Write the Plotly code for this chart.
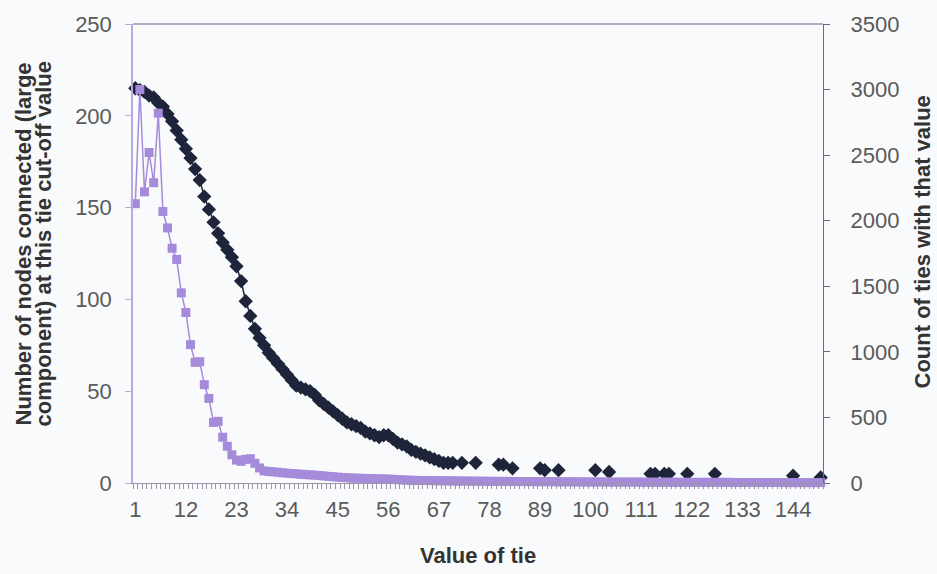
import plotly.graph_objects as go

# Tie value categories on the x axis
tie_values = list(range(1, 151))
x_tick_labels = ["1", "12", "23", "34", "45", "56", "67", "78", "89",
                 "100", "111", "122", "133", "144"]
x_tick_positions = [int(t) for t in x_tick_labels]

# Nodes in the large component at each cut-off value (blank where no value)
nodes_connected = [
    215, 214, 213, 211, 210, 207, 205, 201, 197, 192,
    187, 182, 177, 171, 165, 156, 149, 142, 136, 131,
    127, 123, 118, 110, 99, 91, 84, 79, 75, 71,
    68, 65, 62, 59, 56, 53, 52, 51, 50, 48,
    45, 43, 41, 39, 37, 35, 33, 32, 31, 30,
    28, 27, 26, 25, 26, 26, 24, 22, 21, 20,
    18, 17, 16, 15, 14, 13, 12, 11, 11, 11,
    None, 11, None, None, 11, None, None, None, None, 10,
    10, None, 8, None, None, None, None, None, 8, 7,
    None, None, 7, None, None, None, None, None, None, None,
    7, None, None, 6, None, None, None, None, None, None,
    None, None, 5, 5, None, 5, 5, None, None, None,
    5, None, None, None, None, None, 5, None, None, None,
    None, None, None, None, None, None, None, None, None, None,
    None, None, None, 4, None, None, None, None, None, 3,
]

# Number of ties having each value
tie_counts = [
    2130, 3000, 2220, 2520, 2290, 2820, 2070, 1945, 1790, 1705,
    1450, 1300, 1055, 920, 925, 750, 645, 462, 470, 349,
    280, 215, 175, 165, 180, 185, 150, 115, 92, 88,
    85, 82, 78, 75, 72, 70, 67, 64, 62, 60,
    57, 54, 50, 48, 45, 42, 40, 38, 37, 36,
    35, 34, 33, 32, 31, 30, 28, 26, 24, 22,
    21, 20, 19, 19, 18, 18, 17, 17, 16, 16,
    15, 15, 15, 14, 14, 14, 13, 13, 13, 12,
    12, 12, 12, 11, 11, 11, 11, 10, 10, 10,
    10, 10, 9, 9, 9, 9, 9, 8, 8, 8,
    8, 8, 8, 8, 7, 7, 7, 7, 7, 7,
    7, 6, 6, 6, 6, 6, 6, 6, 6, 5,
    5, 5, 5, 5, 5, 5, 5, 5, 5, 5,
    4, 4, 4, 4, 4, 4, 4, 4, 4, 4,
    4, 3, 3, 3, 3, 3, 3, 3, 3, 3,
]

left_title_lines = ["Number of nodes connected (large",
                    "component) at this tie cut-off value"]
right_title = "Count of ties with that value"
x_title = "Value of tie"

DARK = "#1e2439"
PURPLE = "#a68bdb"
FAMILY = "Liberation Sans, Arial, sans-serif"
TICK_FONT = dict(family=FAMILY, size=22, color="#5a5a5a")
TITLE_FONT = dict(family=FAMILY, size=22, color="#333333")

fig = go.Figure()

fig.add_trace(go.Scatter(
    x=tie_values, y=nodes_connected, mode="lines+markers",
    line=dict(color=DARK, width=1.5),
    marker=dict(symbol="diamond", size=11, color=DARK),
    connectgaps=False, showlegend=False, yaxis="y", cliponaxis=False,
))

fig.add_trace(go.Scatter(
    x=tie_values, y=tie_counts, mode="lines+markers",
    line=dict(color=PURPLE, width=1.5),
    marker=dict(symbol="square", size=9, color=PURPLE),
    showlegend=False, yaxis="y2", cliponaxis=False,
))

annotations = [
    dict(text="<b>%s</b>" % left_title_lines[0], xref="paper", yref="paper",
         x=0, y=0.5, xshift=-110, yshift=9, textangle=-90, showarrow=False,
         font=TITLE_FONT, xanchor="center", yanchor="middle"),
    dict(text="<b>%s</b>" % left_title_lines[1], xref="paper", yref="paper",
         x=0, y=0.5, xshift=-90, yshift=9, textangle=-90, showarrow=False,
         font=TITLE_FONT, xanchor="center", yanchor="middle"),
    dict(text="<b>%s</b>" % right_title, xref="paper", yref="paper",
         x=1, y=0.5, xshift=99, yshift=11, textangle=-90, showarrow=False,
         font=TITLE_FONT, xanchor="center", yanchor="middle"),
    dict(text="<b>%s</b>" % x_title, xref="paper", yref="paper",
         x=0.5, y=0, yshift=-72, showarrow=False,
         font=TITLE_FONT, xanchor="center", yanchor="middle"),
]

fig.update_layout(
    width=937, height=574,
    margin=dict(l=133, r=114, t=19, b=91),
    paper_bgcolor="#f9fafc", plot_bgcolor="#f9fafc",
    xaxis=dict(
        range=[0.5, 150.5], tickmode="array",
        tickvals=x_tick_positions, ticktext=x_tick_labels,
        ticks="", showgrid=False, zeroline=False,
        showline=True, linecolor="#9c94aa", linewidth=1, mirror=False,
        tickfont=TICK_FONT, ticklabelstandoff=7,
        minor=dict(tickmode="linear", tick0=0.5, dtick=1, ticks="outside",
                   ticklen=5, tickcolor="#9c94aa", showgrid=False),
    ),
    yaxis=dict(
        range=[0, 250], dtick=50, ticks="outside", ticklen=6,
        tickcolor="#b9a9e2", showgrid=False, zeroline=False,
        showline=True, linecolor="#b9a9e2", linewidth=1.5,
        tickfont=TICK_FONT, ticklabelstandoff=9,
    ),
    yaxis2=dict(
        range=[0, 3500], dtick=500, overlaying="y", side="right",
        ticks="outside", ticklen=6, tickcolor="#6f6680",
        showgrid=False, zeroline=False,
        showline=True, linecolor="#6f6680", linewidth=1.2,
        tickfont=TICK_FONT, ticklabelstandoff=16,
    ),
    annotations=annotations,
    shapes=[dict(type="line", xref="paper", yref="paper", x0=0, x1=1, y0=1, y1=1,
                 line=dict(color="#9c8fb0", width=1.5))],
)

fig.write_html("out.html")
